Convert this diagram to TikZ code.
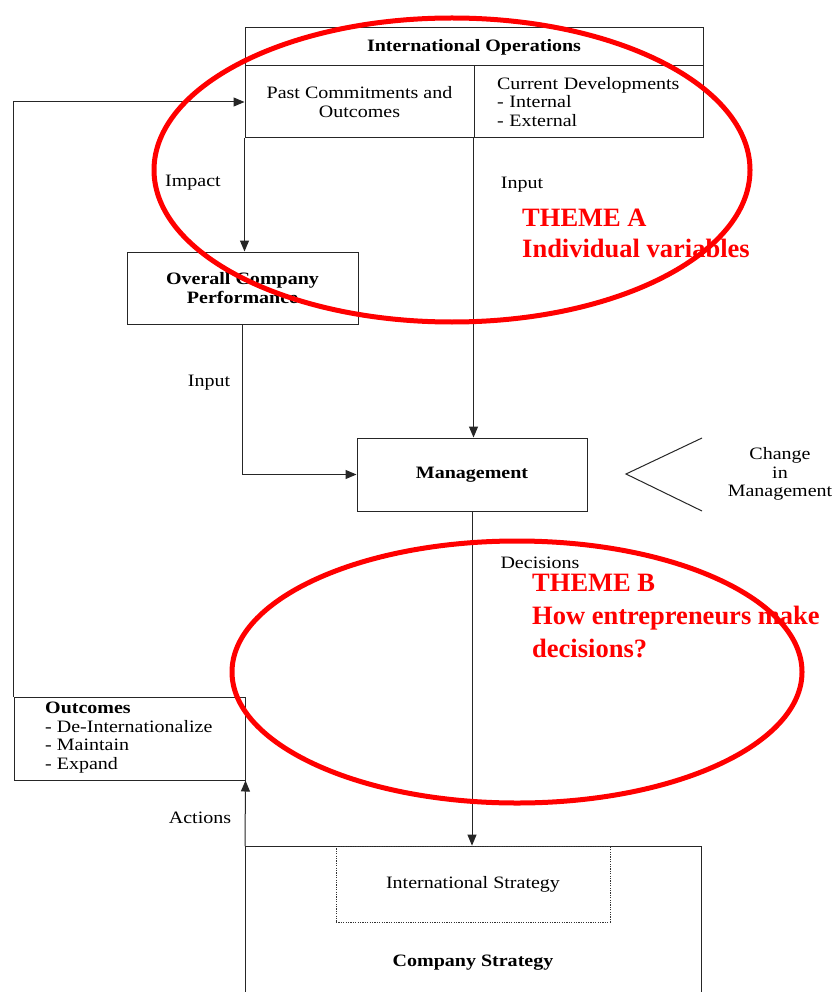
\documentclass[tikz,border=0pt]{standalone}
\usepackage{fontspec}
\setmainfont{Liberation Serif}[FakeStretch=1.15]
\newfontfamily\themefont{Liberation Serif}
\usetikzlibrary{arrows.meta}
\begin{document}
\begin{tikzpicture}[x=1pt,y=-1pt,
  box/.style={draw=black!85, line width=1pt, inner sep=0pt},
  lbl/.style={font=\fontsize{17.4}{18.5}\selectfont, inner sep=0pt},
  blbl/.style={font=\fontsize{17.4}{18.5}\selectfont\bfseries, inner sep=0pt},
  conn/.style={draw=black!85, line width=1pt},
  arr/.style={conn, -{Triangle[length=11pt,width=9pt]}},
  dotbox/.style={draw=black!80, line width=0.8pt, dash pattern=on 1.2pt off 1.2pt, inner sep=0pt},
  theme/.style={text=red, font=\themefont\bfseries\fontsize{26.5}{32}\selectfont, inner sep=0pt, anchor=base west},
  oval/.style={draw=red, line width=5pt}]
\useasboundingbox (0,0) rectangle (837,992);
\fill[white] (0,0) rectangle (837,992);

% International Operations block
\node[box, blbl, minimum width=458pt, minimum height=38pt] (iohead) at (474,47) {International Operations};
\node[box, lbl, minimum width=229pt, minimum height=72pt, align=center] (past) at (359.5,102) {Past Commitments and\\Outcomes};
\node[box, lbl, text width=183pt, inner xsep=23pt, minimum height=72pt, align=left] (curr) at (588.5,102) {Current Developments\\- Internal\\- External};

% Overall company performance
\node[box, blbl, minimum width=231pt, minimum height=72pt, align=center] (ocp) at (242.5,288) {Overall Company\\Performance};

% Management
\node[box, blbl, minimum width=230pt, minimum height=73pt] (mgmt) at (472,474.5) {Management};

% Change in management
\coordinate (chA) at (702,438);
\coordinate (chB) at (626,474);
\coordinate (chC) at (702,511);
\draw[conn] (chA) -- (chB) -- (chC);
\node[lbl, align=center] (chtext) at (780,474) {Change\\in\\Management};

% Outcomes
\node[box, minimum width=231pt, minimum height=83pt] (outcomes) at (129.5,738.5) {};
\node[lbl, anchor=west, align=left] (outtext) at (45,737.5) {\textbf{Outcomes}\\- De-Internationalize\\- Maintain\\- Expand};

% Company strategy
\coordinate (csTL) at (245,846);
\coordinate (csTR) at (701,846);
\coordinate (csBL) at (245,992);
\coordinate (csBR) at (701,992);
\draw[conn] (csBL) -- (csTL) -- (csTR) -- (csBR);
\node[dotbox, lbl, minimum width=274pt, minimum height=76pt] (istrat) at (473,884) {International Strategy};
\node[blbl] (cstext) at (473,963) {Company Strategy};

% Connectors
\draw[arr] (past.south west) -- (past.south west |- ocp.north);
\draw[arr] (curr.south west) -- (curr.south west |- mgmt.north);
\draw[arr] (ocp.south) |- (mgmt.west);
\draw[arr] (mgmt.south) -- (mgmt.south |- istrat.north);
\draw[arr] (csTL) -- (outcomes.south east);
\draw[arr] (outcomes.north west) |- (past.west);

% Connector labels
\node[lbl] (limpact) at (193,183) {Impact};
\node[lbl] (linput1) at (209,383) {Input};
\node[lbl] (linput2) at (522,185) {Input};
\node[lbl] (ldec) at (540,563) {Decisions};
\node[lbl] (lact) at (200,818) {Actions};

% Theme texts
\node[theme] (tA1) at (522,226) {THEME A};
\node[theme] (tA2) at (522,258) {Individual variables};
\node[theme] (tB1) at (532,591) {THEME B};
\node[theme] (tB2) at (532,624) {How entrepreneurs make};
\node[theme] (tB3) at (532,657) {decisions?};

% Red ovals
\draw[oval] (452,170) ellipse [x radius=298, y radius=152];
\draw[oval] (517,672) ellipse [x radius=285, y radius=131];
\end{tikzpicture}
\end{document}
